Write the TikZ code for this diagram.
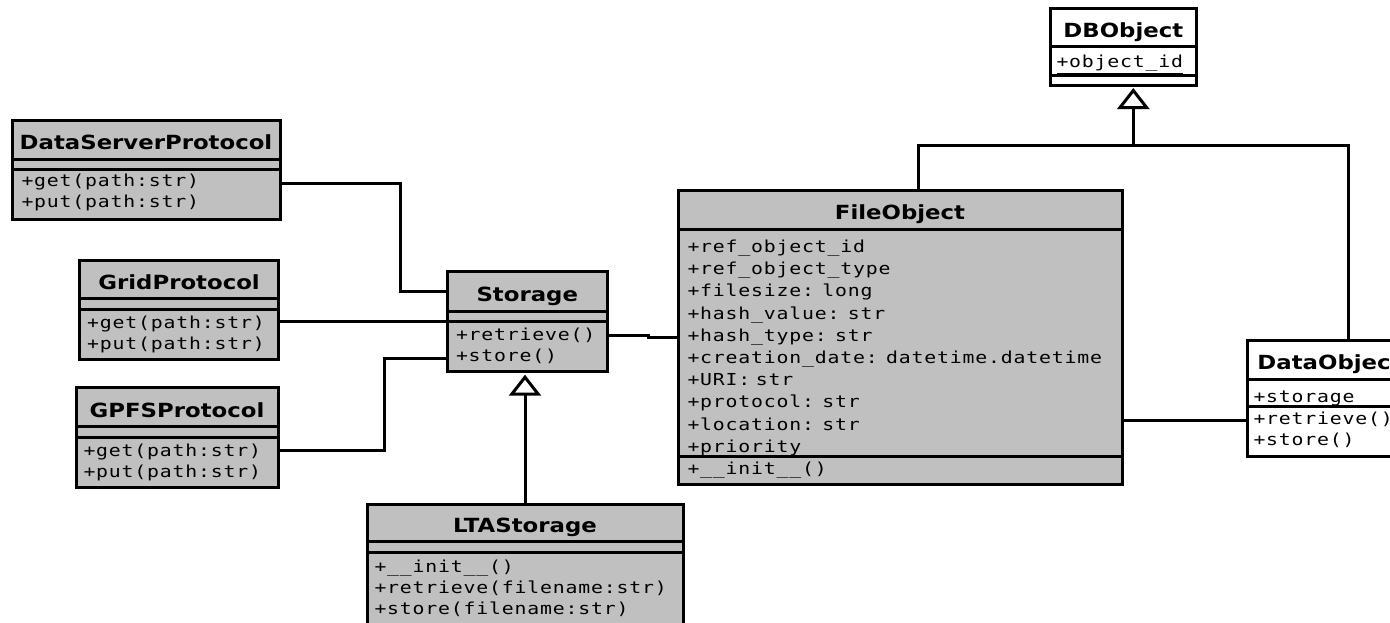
\documentclass[tikz,border=0pt]{standalone}
\usepackage{fontspec}
\usetikzlibrary{positioning,arrows.meta}
\newfontfamily\umltitle{DejaVu Sans}[FakeStretch=1.17]
\newfontfamily\umlmono{DejaVu Sans Mono}[FakeStretch=1.2,LetterSpace=5,WordSpace={1.3,0,0}]
\definecolor{classgray}{RGB}{192,192,192}

\begin{document}
\begin{tikzpicture}[x=1pt, y=-1pt, line width=3pt,
    band/.style={draw, fill=classgray, outer sep=0pt, inner sep=0pt, anchor=north west},
    titleband/.style={band, text height=20pt, text depth=0pt, font=\umltitle\bfseries\fontsize{19.5pt}{22pt}\selectfont},
    members/.style={inner sep=0pt, anchor=base west, text width=440pt, align=left, font=\umlmono\fontsize{16.5pt}{21pt}\selectfont},
    inherit/.style={-{Triangle[open, length=21pt, width=32pt]}}]
    % picture frame
    \path[use as bounding box, clip] (0,0) rectangle (1390,622);

    % Protocols
    \node[titleband, minimum width=268pt, minimum height=39pt] (dsp) at (12,120) {DataServerProtocol};
    \node[band, minimum width=268pt, minimum height=10pt, below=0pt of dsp] (dsp-a) {};
    \node[band, minimum width=268pt, minimum height=50pt, below=0pt of dsp-a] (dsp-m) {};
    \node[members] (dsp-mt) at ([xshift=8pt,yshift=-17pt]dsp-m.north west) {+get(path:str)\\+put(path:str)};

    \node[titleband, minimum width=199pt, minimum height=38.3pt] (grid) at (79.6,260) {GridProtocol};
    \node[band, minimum width=199pt, minimum height=11pt, below=0pt of grid] (grid-a) {};
    \node[band, minimum width=199pt, minimum height=50pt, below=0pt of grid-a] (grid-m) {};
    \node[members] (grid-mt) at ([xshift=6pt,yshift=-19pt]grid-m.north west) {+get(path:str)\\+put(path:str)};

    \node[titleband, minimum width=202pt, minimum height=39.4pt] (gpfs) at (76,387.3) {GPFSProtocol};
    \node[band, minimum width=202pt, minimum height=10.6pt, below=0pt of gpfs] (gpfs-a) {};
    \node[band, minimum width=202pt, minimum height=50pt, below=0pt of gpfs-a] (gpfs-m) {};
    \node[members] (gpfs-mt) at ([xshift=6pt,yshift=-18.7pt]gpfs-m.north west) {+get(path:str)\\+put(path:str)};

    % Storage and LTAStorage
    \node[titleband, minimum width=159.5pt, minimum height=40pt] (st) at (447.5,271.7) {Storage};
    \node[band, minimum width=159.5pt, minimum height=10pt, below=0pt of st] (st-a) {};
    \node[band, minimum width=159.5pt, minimum height=50pt, below=0pt of st-a] (st-m) {};
    \node[members] (st-mt) at ([xshift=7pt,yshift=-18.5pt]st-m.north west) {+retrieve()\\+store()};

    \node[titleband, minimum width=316pt, minimum height=37.7pt] (lta) at (367,504) {LTAStorage};
    \node[band, minimum width=316pt, minimum height=11pt, below=0pt of lta] (lta-a) {};
    \node[band, minimum width=316pt, minimum height=80pt, below=0pt of lta-a] (lta-m) {};
    \node[members] (lta-mt) at ([xshift=6pt,yshift=-19.5pt]lta-m.north west) {+\_\_init\_\_()\\+retrieve(filename:str)\\+store(filename:str)};

    % FileObject
    \node[titleband, minimum width=444pt, minimum height=39.3pt] (fo) at (678,190) {FileObject};
    \node[band, minimum width=444pt, minimum height=227.4pt, below=0pt of fo] (fo-a) {};
    \node[members, font=\umlmono\fontsize{16.5pt}{22.2pt}\selectfont] (fo-at) at ([xshift=8pt,yshift=-23.2pt]fo-a.north west)
        {+ref\_object\_id\\+ref\_object\_type\\+filesize: long\\+hash\_value: str\\+hash\_type: str\\+creation\_date: datetime.datetime\\+URI: str\\+protocol: str\\+location: str\\+priority};
    \node[band, minimum width=444pt, minimum height=27.3pt, below=0pt of fo-a] (fo-m) {};
    \node[members] (fo-mt) at ([xshift=8pt,yshift=-17.5pt]fo-m.north west) {+\_\_init\_\_()};

    % DBObject and DataObject
    \node[titleband, fill=white, minimum width=146.7pt, minimum height=38.4pt] (dbo) at (1050,8.3) {DBObject};
    \node[band, fill=white, minimum width=146.7pt, minimum height=28.3pt, below=0pt of dbo] (dbo-a) {};
    \node[band, fill=white, minimum width=146.7pt, minimum height=10pt, below=0pt of dbo-a] (dbo-m) {};
    \node[members] (dbo-at) at ([xshift=5pt,yshift=-21pt]dbo-a.north west) {\underline{+object\_id}};

    \node[titleband, fill=white, minimum width=165pt, minimum height=38.3pt] (do) at (1247,340.7) {DataObject};
    \node[band, fill=white, minimum width=165pt, minimum height=27.7pt, below=0pt of do] (do-a) {};
    \node[members] (do-at) at ([xshift=5pt,yshift=-23.2pt]do-a.north west) {+storage};
    \node[band, fill=white, minimum width=165pt, minimum height=50pt, below=0pt of do-a] (do-m) {};
    \node[members] (do-mt) at ([xshift=5pt,yshift=-17.5pt]do-m.north west) {+retrieve()\\+store()};

    % associations
    \draw ([yshift=-14pt]dsp-m.north east) -| ([xshift=-47.5pt]st.west) -- (st.west);
    \draw (grid-m.east |- st-a.south) -- (st-a.south west);
    \draw ([yshift=-13.4pt]gpfs-m.north east) -| ([xshift=-63.5pt,yshift=13.4pt]st-m.south west) -- ([yshift=13.4pt]st-m.south west);
    \draw ([yshift=-13.3pt]st-m.north east) -| ([xshift=-30pt,yshift=-108pt]fo-a.north west) -- ([yshift=-108pt]fo-a.north west);
    \coordinate (do-link) at ([yshift=-13.3pt]do-m.north west);
    \draw (fo-a.east |- do-link) -- (do-link);

    % generalisations
    \draw[inherit] (lta.north) -- ([yshift=-3pt]lta.north |- st-m.south);
    \coordinate (gen) at (1133.3,145.7);
    \draw ([xshift=18pt]fo.north) |- (gen);
    \draw ([xshift=101pt]do.north west) |- (gen);
    \draw[inherit] (gen) -- ([yshift=-3pt]gen |- dbo-m.south);
\end{tikzpicture}
\end{document}
